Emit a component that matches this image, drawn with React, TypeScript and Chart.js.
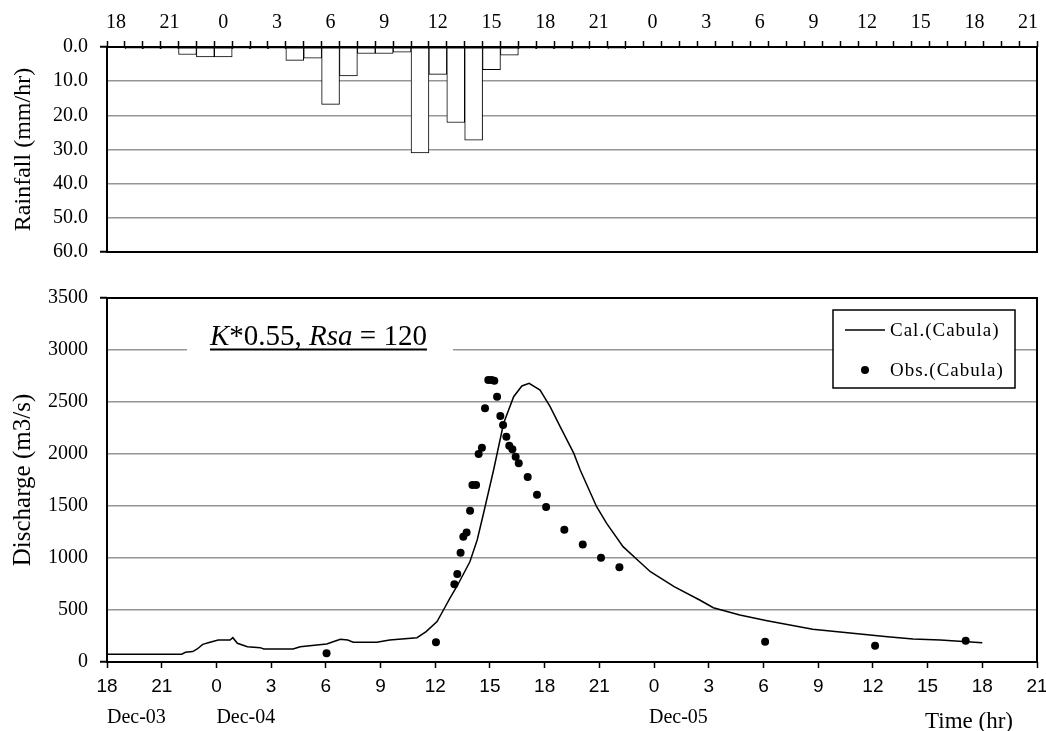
import React, { useEffect, useRef } from "react";
import { Chart, registerables } from "chart.js";
Chart.register(...registerables);

const SERIF = '"Liberation Serif", "Times New Roman", serif';
const SANS_NARROW = '"Liberation Sans Narrow", "Arial Narrow", "Liberation Sans", Arial, sans-serif';

// Hourly rainfall categories (Dec-03 18h ... Dec-05 21h)
const rainCategories = [
  "18", "19", "20", "21", "22", "23",
  "0", "1", "2", "3", "4", "5", "6", "7", "8", "9", "10", "11",
  "12", "13", "14", "15", "16", "17", "18", "19", "20", "21", "22", "23",
  "0", "1", "2", "3", "4", "5", "6", "7", "8", "9", "10", "11",
  "12", "13", "14", "15", "16", "17", "18", "19", "20", "21",
];
const rainfall = [
  0, 0.5, 0.5, 0.5, 2.2, 2.9,
  2.9, 0.5, 0.5, 0.5, 3.9, 3.3, 16.8, 8.5, 1.9, 1.9, 1.5, 31.0,
  8.0, 22.1, 27.3, 6.6, 2.4, 0.5, 0.5, 0.5, 0.5, 0, 0.5, 0,
  0, 0, 0, 0, 0, 0, 0, 0, 0, 0, 0, 0,
  0, 0, 0, 0, 0, 0, 0, 0, 0, 0,
];

// Hours elapsed since Dec-03 18:00
const calHours = [
  0, 4.1, 4.3, 4.7, 4.95, 5.25, 5.65, 6.1, 6.75, 6.9,
  7.15, 7.7, 8.4, 8.6, 10.2, 10.6, 11.5, 12.05, 12.4, 12.8,
  13.2, 13.5, 14.8, 15.5, 17.0, 17.5, 18.1, 18.45, 18.8, 19.2,
  19.9, 20.3, 20.65, 21.2, 21.75, 22.3, 22.75, 23.15, 23.75, 24.3,
  24.85, 25.6, 25.95, 26.85, 27.4, 28.3, 29.2, 29.8, 31.1, 32.5,
  33.25, 34.7, 36.2, 38.7, 42.8, 44.2, 45.7, 48.0,
];
const calFlow = [
  75, 75, 93, 100, 125, 170, 190, 212, 212, 234,
  180, 147, 138, 125, 125, 147, 163, 173, 195, 218,
  212, 190, 190, 212, 234, 292, 388, 500, 612, 731,
  964, 1173, 1430, 1846, 2295, 2551, 2654, 2680, 2615, 2455,
  2263, 2006, 1846, 1493, 1333, 1109, 964, 868, 724, 596,
  522, 452, 397, 314, 243, 221, 212, 186,
];

const obsHours = [
  12.04, 18.04,
  19.05, 19.21, 19.39, 19.54, 19.72, 19.91, 20.04, 20.24, 20.38, 20.56, 20.73,
  20.91, 21.09, 21.24, 21.39, 21.57, 21.72, 21.9, 22.06, 22.23, 22.41, 22.58,
  23.07, 23.58, 24.08, 25.08, 26.09, 27.09, 28.1,
  36.09, 42.12, 47.09,
];
const obsFlow = [
  83, 189,
  747, 846, 1051, 1205, 1244, 1455, 1702, 1702, 2000, 2061, 2439,
  2712, 2712, 2705, 2551, 2365, 2279, 2167, 2080, 2045, 1974, 1910,
  1779, 1609, 1490, 1272, 1131, 1003, 910,
  195, 157, 205,
];

const dateLabels = ["Dec-03", "Dec-04", "Dec-05"];
const dateLabelHours = [0, 6, 29.72];

const GRID = "#969696";

const framePlugin = {
  id: "frame",
  afterDatasetsDraw(chart: any) {
    const { ctx, chartArea: a } = chart;
    ctx.save();
    ctx.strokeStyle = "#000";
    ctx.lineWidth = 2;
    ctx.strokeRect(a.left, a.top, a.right - a.left, a.bottom - a.top);
    ctx.restore();
  },
};

const annotPlugin = {
  id: "annot",
  afterDraw(chart: any) {
    const { ctx, chartArea: a, scales } = chart;
    const xs = scales.x;
    ctx.save();
    // annotation box
    ctx.fillStyle = "#fff";
    ctx.fillRect(a.left + 80, a.top + 22, 266, 36);
    const parts = [
      { t: "K", i: true },
      { t: "*0.55, ", i: false },
      { t: "Rsa", i: true },
      { t: " = 120", i: false },
    ];
    let x = a.left + 103;
    const base = a.top + 46.5;
    ctx.fillStyle = "#000";
    ctx.textBaseline = "alphabetic";
    ctx.textAlign = "left";
    const x0 = x;
    for (const p of parts) {
      ctx.font = `${p.i ? "italic " : ""}29px ${SERIF}`;
      ctx.fillText(p.t, x, base);
      x += ctx.measureText(p.t).width;
    }
    ctx.fillRect(x0, base + 4, x - x0, 2);

    // legend
    const bw = 182, bh = 78;
    const bx = a.right - 204, by = a.top + 12;
    ctx.fillStyle = "#fff";
    ctx.fillRect(bx, by, bw, bh);
    ctx.strokeStyle = "#000";
    ctx.lineWidth = 1.5;
    ctx.strokeRect(bx, by, bw, bh);
    ctx.beginPath();
    ctx.moveTo(bx + 12, by + 20);
    ctx.lineTo(bx + 52, by + 20);
    ctx.stroke();
    ctx.fillStyle = "#000";
    ctx.beginPath();
    ctx.arc(bx + 32, by + 60, 4, 0, Math.PI * 2);
    ctx.fill();
    ctx.font = `19px ${SERIF}`;
    (ctx as any).letterSpacing = "1px";
    ctx.textBaseline = "middle";
    ctx.fillText(chart.data.datasets[0].label, bx + 57, by + 21);
    ctx.fillText(chart.data.datasets[1].label, bx + 57, by + 61);
    (ctx as any).letterSpacing = "0px";

    // date labels
    ctx.textBaseline = "alphabetic";
    ctx.font = `20px ${SERIF}`;
    dateLabels.forEach((d, i) => {
      ctx.fillText(d, xs.getPixelForValue(dateLabelHours[i]), a.bottom + 61);
    });
    ctx.font = `23px ${SERIF}`;
    ctx.textAlign = "right";
    ctx.fillText("Time (hr)", a.right - 24, a.bottom + 65.5);
    ctx.restore();
  },
};

const edge = (v: any, lo: number, hi: number) => v === lo || v === hi;

export default function App() {
  const topRef = useRef<HTMLCanvasElement>(null);
  const botRef = useRef<HTMLCanvasElement>(null);

  useEffect(() => {
    const top = new Chart(topRef.current!, {
      type: "bar",
      data: {
        labels: rainCategories,
        datasets: [
          {
            label: "Rainfall",
            data: rainfall,
            backgroundColor: "#fff",
            borderColor: "#000",
            borderWidth: 1,
            borderSkipped: false,
            barPercentage: 1,
            categoryPercentage: 1,
          } as any,
        ],
      },
      options: {
        animation: false,
        responsive: false,
        devicePixelRatio: 1,
        layout: { padding: { left: 0, right: 9, top: 0, bottom: 10 } },
        plugins: { legend: { display: false }, tooltip: { enabled: false } },
        scales: {
          x: {
            position: "top",
            afterFit: (s: any) => { s.height = 47; s.paddingLeft = 0; s.paddingRight = 0; },
            grid: {
              offset: true,
              drawOnChartArea: false,
              drawTicks: true,
              tickLength: 6,
              tickColor: "#000",
              tickWidth: 1.5,
            },
            border: { display: false },
            ticks: {
              autoSkip: false,
              maxRotation: 0,
              minRotation: 0,
              padding: 6,
              color: "#000",
              font: { family: SERIF, size: 20 },
              callback: (_v: any, i: number) => (i % 3 === 0 ? rainCategories[i] : ""),
            },
          },
          y: {
            reverse: true,
            min: 0,
            max: 60,
            afterFit: (s: any) => { s.width = 107; s.paddingTop = 0; s.paddingBottom = 0; },
            border: { display: false },
            grid: {
              color: (c: any) => (edge(c.tick?.value, 0, 60) ? "rgba(0,0,0,0)" : GRID),
              lineWidth: 1.5,
              tickLength: 7,
              tickColor: (c: any) => (edge(c.tick?.value, 0, 60) ? "#000" : "rgba(0,0,0,0)"),
              tickWidth: 2,
            },
            ticks: {
              stepSize: 10,
              padding: 12,
              color: "#000",
              font: { family: SERIF, size: 20 },
              callback: (v: any) => Number(v).toFixed(1),
            },
            title: {
              display: true,
              text: "Rainfall (mm/hr)",
              color: "#000",
              font: { family: SERIF, size: 24 },
              padding: { top: 9, bottom: 0 },
            },
          },
        },
      } as any,
      plugins: [framePlugin],
    });

    const bot = new Chart(botRef.current!, {
      type: "line",
      data: {
        datasets: [
          {
            label: "Cal.(Cabula)",
            data: calHours.map((h, i) => ({ x: h, y: calFlow[i] })),
            borderColor: "#000",
            borderWidth: 1.5,
            pointRadius: 0,
            fill: false,
            tension: 0,
            order: 2,
          },
          {
            label: "Obs.(Cabula)",
            data: obsHours.map((h, i) => ({ x: h, y: obsFlow[i] })),
            showLine: false,
            pointRadius: 4,
            pointBackgroundColor: "#000",
            pointBorderWidth: 0,
            backgroundColor: "#000",
            borderColor: "#000",
            order: 1,
          },
        ],
      },
      options: {
        animation: false,
        responsive: false,
        devicePixelRatio: 1,
        layout: { padding: { left: 0, right: 9, top: 36, bottom: 0 } },
        plugins: { legend: { display: false }, tooltip: { enabled: false } },
        scales: {
          x: {
            type: "linear",
            min: 0,
            max: 51,
            afterFit: (s: any) => { s.height = 69; s.paddingLeft = 0; s.paddingRight = 0; },
            border: { display: false },
            grid: {
              drawOnChartArea: false,
              tickLength: 6,
              tickColor: "#000",
              tickWidth: 1.5,
            },
            ticks: {
              stepSize: 3,
              autoSkip: false,
              maxRotation: 0,
              minRotation: 0,
              padding: 7,
              color: "#000",
              font: { family: SANS_NARROW, size: 19 },
              callback: (v: any) => String((18 + Number(v)) % 24),
            },
          },
          y: {
            min: 0,
            max: 3500,
            afterFit: (s: any) => { s.width = 107; s.paddingTop = 0; s.paddingBottom = 0; },
            border: { display: false },
            grid: {
              color: (c: any) => (edge(c.tick?.value, 0, 3500) ? "rgba(0,0,0,0)" : GRID),
              lineWidth: 1.5,
              tickLength: 7,
              tickColor: (c: any) => (edge(c.tick?.value, 0, 3500) ? "#000" : "rgba(0,0,0,0)"),
              tickWidth: 2,
            },
            ticks: {
              stepSize: 500,
              padding: 12,
              color: "#000",
              font: { family: SERIF, size: 20 },
              callback: (v: any) => String(v),
            },
            title: {
              display: true,
              text: "Discharge (m3/s)",
              color: "#000",
              font: { family: SERIF, size: 25 },
              padding: { top: 8, bottom: 0 },
            },
          },
        },
      } as any,
      plugins: [framePlugin, annotPlugin],
    });

    return () => {
      top.destroy();
      bot.destroy();
    };
  }, []);

  return (
    <div style={{ position: "fixed", left: 0, top: 0, width: 1046, height: 731, background: "#fff" }}>
      <canvas ref={topRef} width={1046} height={262} style={{ position: "absolute", left: 0, top: 0, display: "block" }} />
      <canvas ref={botRef} width={1046} height={469} style={{ position: "absolute", left: 0, top: 262, display: "block" }} />
    </div>
  );
}
